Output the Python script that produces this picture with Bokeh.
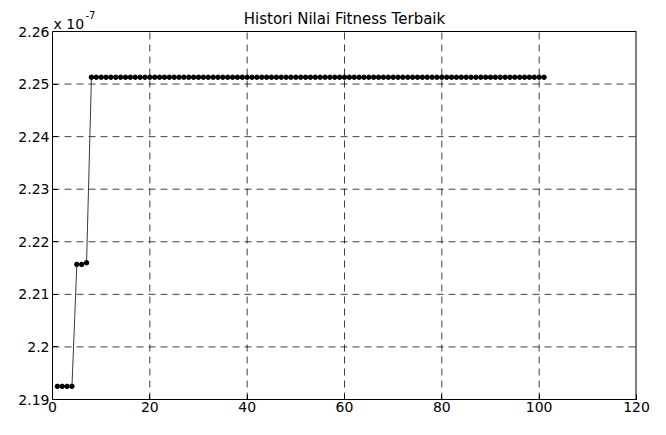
from bokeh.plotting import figure
from bokeh.models import Range1d, FixedTicker, CustomJSTickFormatter, Label, ColumnDataSource
from bokeh.embed import file_html
from bokeh.resources import INLINE

# ---- data ----
title_text = "Histori Nilai Fitness Terbaik"
scale_exp = -7
generation = list(range(1, 102))
fitness = [
    2.1925e-7, 2.1925e-7, 2.1925e-7, 2.1925e-7,
    2.2157e-7, 2.2157e-7, 2.2160e-7,
    2.2513e-7, 2.2513e-7, 2.2513e-7, 2.2513e-7, 2.2513e-7, 2.2513e-7, 2.2513e-7, 2.2513e-7,
    2.2513e-7, 2.2513e-7, 2.2513e-7, 2.2513e-7, 2.2513e-7, 2.2513e-7, 2.2513e-7, 2.2513e-7,
    2.2513e-7, 2.2513e-7, 2.2513e-7, 2.2513e-7, 2.2513e-7, 2.2513e-7, 2.2513e-7, 2.2513e-7,
    2.2513e-7, 2.2513e-7, 2.2513e-7, 2.2513e-7, 2.2513e-7, 2.2513e-7, 2.2513e-7, 2.2513e-7,
    2.2513e-7, 2.2513e-7, 2.2513e-7, 2.2513e-7, 2.2513e-7, 2.2513e-7, 2.2513e-7, 2.2513e-7,
    2.2513e-7, 2.2513e-7, 2.2513e-7, 2.2513e-7, 2.2513e-7, 2.2513e-7, 2.2513e-7, 2.2513e-7,
    2.2513e-7, 2.2513e-7, 2.2513e-7, 2.2513e-7, 2.2513e-7, 2.2513e-7, 2.2513e-7, 2.2513e-7,
    2.2513e-7, 2.2513e-7, 2.2513e-7, 2.2513e-7, 2.2513e-7, 2.2513e-7, 2.2513e-7, 2.2513e-7,
    2.2513e-7, 2.2513e-7, 2.2513e-7, 2.2513e-7, 2.2513e-7, 2.2513e-7, 2.2513e-7, 2.2513e-7,
    2.2513e-7, 2.2513e-7, 2.2513e-7, 2.2513e-7, 2.2513e-7, 2.2513e-7, 2.2513e-7, 2.2513e-7,
    2.2513e-7, 2.2513e-7, 2.2513e-7, 2.2513e-7, 2.2513e-7, 2.2513e-7, 2.2513e-7, 2.2513e-7,
    2.2513e-7, 2.2513e-7, 2.2513e-7, 2.2513e-7, 2.2513e-7, 2.2513e-7,
]
x_ticks = [0, 20, 40, 60, 80, 100, 120]
y_ticks = [2.19, 2.20, 2.21, 2.22, 2.23, 2.24, 2.25, 2.26]

scale = 10.0 ** scale_exp
src = ColumnDataSource(dict(x=generation, y=[v / scale for v in fitness]))

FONT = "DejaVu Sans"
W, H = 650, 419
B_LEFT, B_RIGHT, B_TOP, B_BOTTOM = 52, 14, 6, 20
HEADER_PX = 25          # space inside the frame kept for the title texts
frame_h = H - B_TOP - B_BOTTOM
plot_h = frame_h - HEADER_PX
y0, y1 = y_ticks[0], y_ticks[-1]
y_top = y1 + (y1 - y0) * HEADER_PX / plot_h

p = figure(width=W, height=H, output_backend="svg", toolbar_location=None,
           x_range=Range1d(x_ticks[0], x_ticks[-1]),
           y_range=Range1d(y0, y_top),
           min_border_left=B_LEFT, min_border_right=B_RIGHT,
           min_border_top=B_TOP, min_border_bottom=B_BOTTOM)
p.background_fill_color = "white"
p.border_fill_color = "white"
p.outline_line_color = None
p.xgrid.visible = False
p.ygrid.visible = False

# dashed grid lines (from tick lists)
gx = x_ticks[1:-1]
p.segment(x0=gx, y0=[y0] * len(gx), x1=gx, y1=[y1] * len(gx),
          line_color="black", line_alpha=0.75, line_width=1, line_dash="7 5")
gy = y_ticks[1:-1]
p.segment(x0=[x_ticks[0]] * len(gy), y0=gy, x1=[x_ticks[-1]] * len(gy), y1=gy,
          line_color="black", line_alpha=0.75, line_width=1, line_dash="7 5")

# box: top and right edges
p.segment(x0=[x_ticks[0]], y0=[y1], x1=[x_ticks[-1]], y1=[y1], line_color="black", line_width=1)
p.segment(x0=[x_ticks[-1]], y0=[y0], x1=[x_ticks[-1]], y1=[y1], line_color="black", line_width=2)

# data
p.line("x", "y", source=src, line_color="#3a3a3a", line_width=1)
p.scatter("x", "y", source=src, size=4.5, fill_color="black", line_color="black")

for ax in (p.xaxis[0], p.yaxis[0]):
    ax.axis_line_color = "black"
    ax.major_tick_line_color = "black"
    ax.major_tick_in = 5
    ax.major_tick_out = 0
    ax.minor_tick_line_color = None
    ax.major_label_text_font = FONT
    ax.major_label_text_font_size = "14px"
    ax.major_label_text_color = "black"
    ax.major_label_standoff = 3

p.xaxis[0].ticker = FixedTicker(ticks=x_ticks)
p.yaxis[0].ticker = FixedTicker(ticks=y_ticks)
p.xaxis[0].major_label_standoff = 2
p.yaxis[0].bounds = (y0, y1)
p.yaxis[0].formatter = CustomJSTickFormatter(code="return Number(tick.toFixed(2)).toString();")

p.add_layout(Label(x=(x_ticks[0] + x_ticks[-1]) / 2, y=y1, y_offset=13, text=title_text,
                   text_align="center", text_baseline="alphabetic",
                   text_font=FONT, text_font_size="15px", text_color="black"))
p.add_layout(Label(x=x_ticks[0], y=y1, x_offset=1, y_offset=8, text="x 10",
                   text_align="left", text_baseline="alphabetic",
                   text_font=FONT, text_font_size="14px", text_color="black"))
p.add_layout(Label(x=x_ticks[0], y=y1, x_offset=33, y_offset=17, text=str(scale_exp),
                   text_align="left", text_baseline="alphabetic",
                   text_font=FONT, text_font_size="10px", text_color="black"))

open("out.html", "w").write(file_html(p, INLINE))
